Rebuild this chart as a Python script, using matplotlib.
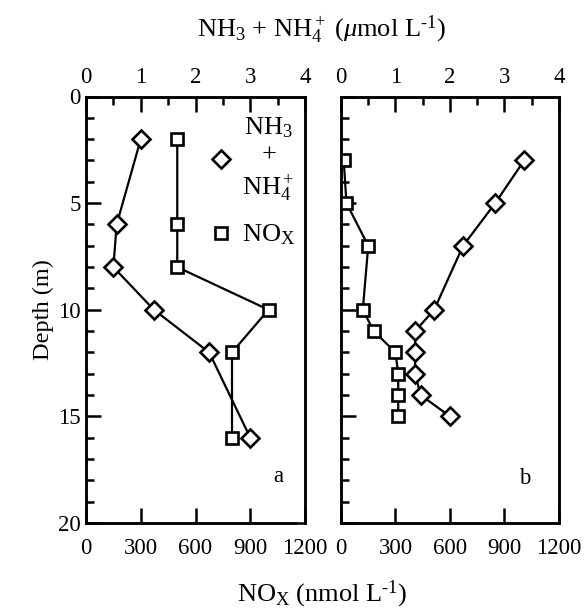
import matplotlib
matplotlib.use("Agg")
import matplotlib.pyplot as plt
from matplotlib.lines import Line2D
from matplotlib.ticker import MultipleLocator

plt.rcParams['font.family'] = ['Liberation Serif', 'DejaVu Serif']
plt.rcParams['mathtext.fontset'] = 'custom'
plt.rcParams['mathtext.rm'] = 'Liberation Serif'
plt.rcParams['mathtext.it'] = 'Liberation Serif:italic'
plt.rcParams['mathtext.bf'] = 'Liberation Serif:bold'

# Panel a
depth_nh_a = [2, 6, 8, 10, 12, 16]
nh_a = [1.0, 0.56, 0.50, 1.24, 2.25, 3.0]
depth_nox_a = [2, 6, 8, 10, 12, 16]
nox_a = [500, 500, 500, 1000, 800, 800]

# Panel b
depth_nh_b = [3, 5, 7, 10, 11, 12, 13, 14, 15]
nh_b = [3.36, 2.83, 2.24, 1.71, 1.36, 1.36, 1.36, 1.46, 2.0]
depth_nox_b = [3, 5, 7, 10, 11, 12, 13, 14, 15]
nox_b = [15, 30, 150, 120, 180, 300, 315, 315, 315]

nox_ticks = [0, 300, 600, 900, 1200]
nh_ticks = [0, 1, 2, 3, 4]
depth_ticks = [0, 5, 10, 15, 20]

W, H = 584, 609
fig = plt.figure(figsize=(W / 100, H / 100), dpi=100)

FS = 16.5
LFS = 19
LW = 1.6
SP = 1.8
MS = 9

def make_panel(left_px, right_px):
    top_px, bot_px = 96.5, 523
    ax = fig.add_axes([left_px / W, (H - bot_px) / H,
                       (right_px - left_px) / W, (bot_px - top_px) / H])
    ax.set_xlim(0, 1200)
    ax.set_ylim(20, 0)
    ax.set_xticks(nox_ticks)
    ax.set_yticks(depth_ticks)
    ax.yaxis.set_minor_locator(MultipleLocator(1))
    for s in ax.spines.values():
        s.set_linewidth(SP)
    ax.tick_params(axis='x', which='major', direction='in', length=11,
                   width=SP, labelsize=FS, pad=11, top=False)
    ax.tick_params(axis='y', which='major', direction='in', length=11,
                   width=SP, labelsize=FS, pad=4, right=False)
    ax.tick_params(axis='y', which='minor', direction='in', length=6,
                   width=SP, right=False)
    tw = ax.twiny()
    tw.set_xlim(0, 4)
    tw.set_xticks(nh_ticks)
    tw.xaxis.set_minor_locator(MultipleLocator(0.5))
    tw.tick_params(axis='x', which='major', direction='in', length=11,
                   width=SP, labelsize=FS, pad=6)
    tw.tick_params(axis='x', which='minor', direction='in', length=6,
                   width=SP)
    for s in tw.spines.values():
        s.set_linewidth(SP)
    return ax, tw

axa, twa = make_panel(86, 305)
axb, twb = make_panel(341, 559)
axb.tick_params(axis='y', which='both', labelleft=False)
axa.spines['bottom'].set_bounds(0, 1150)

mk = dict(color='black', lw=LW, mfc='white', mec='black', mew=1.9)

axa.plot(nox_a, depth_nox_a, marker='s', ms=MS, **mk, zorder=3)
twa.plot(nh_a, depth_nh_a, marker='D', ms=MS, **mk, zorder=3)
twa.set_ylim(20, 0)
axb.plot(nox_b, depth_nox_b, marker='s', ms=MS, **mk, zorder=3)
twb.plot(nh_b, depth_nh_b, marker='D', ms=MS, **mk, zorder=3)
twb.set_ylim(20, 0)

axa.set_ylabel('Depth (m)', fontsize=17.5, labelpad=3)

axa.text(0.88, 0.11, 'a', transform=axa.transAxes, fontsize=FS,
         ha='center', va='center')
axb.text(0.845, 0.105, 'b', transform=axb.transAxes, fontsize=FS,
         ha='center', va='center')

handles = [Line2D([], [], ls='none', marker='D', ms=MS, mfc='white',
                  mec='black', mew=1.9),
           Line2D([], [], ls='none', marker='s', ms=MS, mfc='white',
                  mec='black', mew=1.9)]
labels = ['NH$_3$\n+\nNH$_4^+$', 'NO$_\\mathrm{X}$']
leg = twa.legend(handles, labels, loc='upper left', bbox_to_anchor=(0.57, 0.955),
                 frameon=False, fontsize=LFS, handlelength=0.8,
                 handletextpad=0.4, labelspacing=0.75, borderpad=0,
                 borderaxespad=0)
for t in leg.get_texts():
    t.set_multialignment('center')
    t.set_linespacing(1.25)

fig.text(322 / W, 1 - 30 / H, r'NH$_3$ + NH$_4^+$ ($\mu$mol L$^{\text{-}1}$)',
         ha='center', va='center', fontsize=LFS)
fig.text(322 / W, 1 - 594 / H, r'NO$_\mathrm{X}$ (nmol L$^{\text{-}1}$)',
         ha='center', va='center', fontsize=LFS)

fig.savefig('out.png', dpi=100)
